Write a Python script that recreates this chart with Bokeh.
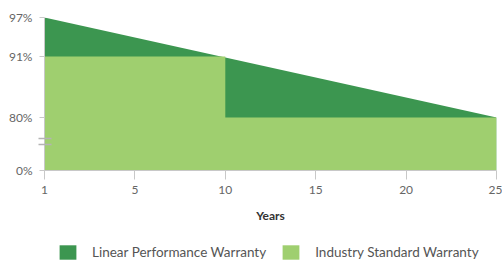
import numpy as np
from bokeh.plotting import figure
from bokeh.layouts import column
from bokeh.models import Legend, LegendItem, FixedTicker, Range1d
from bokeh.embed import file_html
from bokeh.resources import INLINE

# ---- data ----
linear_years = [1, 25]
linear_pct = [97, 80]
standard_years = [1, 10, 10, 25]
standard_pct = [91, 91, 80, 80]
x_tick_years = [1, 5, 10, 15, 20, 25]
y_tick_pct = [0, 80, 91, 97]
series_names = ["Linear Performance Warranty", "Industry Standard Warranty"]
colors = ["#3c9650", "#9fcf6f"]

# ---- axis scales (broken axes) ----
def xpos(years):
    return np.interp(years, [1, 5, 25], [0, 5, 25])

def ypos(pct):
    return np.interp(pct, [0, 80, 91, 97], [0, 53, 114, 153])

p = figure(frame_width=452, frame_height=153, output_backend="svg", toolbar_location=None,
           min_border_left=44, min_border_right=6, min_border_top=17, min_border_bottom=56,
           x_range=Range1d(0, 25), y_range=Range1d(0, 153))
p.outline_line_color = None
p.grid.visible = False
p.background_fill_color = "white"

lx = xpos(linear_years)
r1 = p.varea(x=lx, y1=np.zeros(len(lx)), y2=ypos(linear_pct), fill_color=colors[0])
sx = xpos(standard_years)
r2 = p.varea(x=sx, y1=np.zeros(len(sx)), y2=ypos(standard_pct), fill_color=colors[1])

# axes
xt = [float(v) for v in xpos(x_tick_years)]
p.xaxis.ticker = FixedTicker(ticks=xt)
p.xaxis.major_label_overrides = {v: str(y) for v, y in zip(xt, x_tick_years)}
yt = [float(v) for v in ypos(y_tick_pct)]
# minor ticks used as the axis-break mark
p.yaxis.ticker = FixedTicker(ticks=yt, minor_ticks=[26, 32])
p.yaxis.major_label_overrides = {v: f"{y}%" for v, y in zip(yt, y_tick_pct)}

for ax in (p.xaxis, p.yaxis):
    ax.axis_line_color = "#c8c8c8"
    ax.major_tick_line_color = "#c8c8c8"
    ax.major_tick_in = 0
    ax.major_label_text_font = "Lato"
    ax.major_label_text_font_size = "12px"
    ax.major_label_text_color = "#666666"
    ax.major_label_standoff = 6
p.xaxis.minor_tick_line_color = None
p.yaxis.minor_tick_line_color = "#b4b4b4"
p.yaxis.minor_tick_line_width = 1.5
p.yaxis.minor_tick_in = 7
p.yaxis.minor_tick_out = 6
p.yaxis.major_tick_out = 5
p.xaxis.major_tick_out = 9
p.xaxis.axis_label = "Years"
p.xaxis.axis_label_text_font = "Lato"
p.xaxis.axis_label_text_font_size = "12px"
p.xaxis.axis_label_text_font_style = "bold"
p.xaxis.axis_label_text_color = "#333333"
p.xaxis.axis_label_standoff = 11

# ---- legend strip ----
lg = figure(width=502, height=35, output_backend="svg", toolbar_location=None,
            x_axis_type=None, y_axis_type=None, min_border=0,
            x_range=Range1d(0, 1), y_range=Range1d(0, 1))
lg.outline_line_color = None
lg.grid.visible = False
# legend swatches (data kept outside the visible range)
d1 = lg.varea(x=[0, 1], y1=[-3, -3], y2=[-2, -2], fill_color=colors[0])
d2 = lg.varea(x=[0, 1], y1=[-3, -3], y2=[-2, -2], fill_color=colors[1])
legend = Legend(items=[LegendItem(label=series_names[0], renderers=[d1]),
                       LegendItem(label=series_names[1], renderers=[d2])],
                orientation="horizontal", location=(13, 0),
                border_line_color=None, background_fill_alpha=0,
                margin=0, padding=0, spacing=14, label_standoff=14,
                glyph_width=21, glyph_height=18,
                label_text_font="Lato", label_text_font_size="13.5px",
                label_text_color="#555555")
lg.add_layout(legend, "center")

layout = column(p, lg, spacing=0)
open("out.html", "w").write(file_html(layout, INLINE))
